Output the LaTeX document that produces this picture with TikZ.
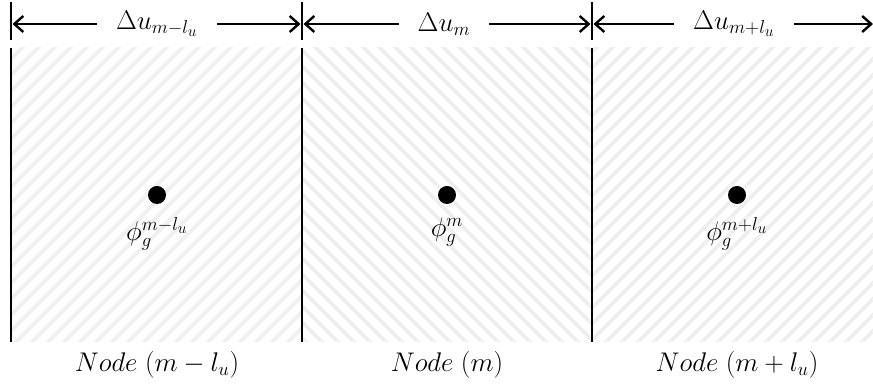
\documentclass[tikz,border=0pt]{standalone}
\usetikzlibrary{arrows.meta}
\DeclareMathSizes{20}{20}{14.4}{12}
\newcommand{\bigtxt}[1]{\scalebox{1.3}{\fontsize{20}{24}\selectfont #1}}
\begin{document}
\begin{tikzpicture}[x=1pt,y=1pt,
  bar/.style={line width=2.6pt},
  dimarrow/.style={line width=2.4pt,-{Straight Barb[length=9pt,width=16pt,line width=2.4pt]}},
  hatchline/.style={line width=4pt,black!6},
  lbl/.style={inner sep=0pt},
  dimlbl/.style={inner xsep=19pt,inner ysep=0pt},
  dot/.style={circle,fill=black,inner sep=0pt,minimum size=18pt}]
\useasboundingbox (0,0) rectangle (873,390);
% hatching
\begin{scope}
  \clip (11,48) rectangle (302,342);
  \foreach \i in {-400,-384,...,320} \draw[hatchline] (\i,0) -- ++(400,400);
\end{scope}
\begin{scope}
  \clip (302,48) rectangle (592,342);
  \foreach \i in {290,306,...,1000} \draw[hatchline] (\i,0) -- ++(-400,400);
\end{scope}
\begin{scope}
  \clip (592,48) rectangle (873,342);
  \foreach \i in {190,206,...,900} \draw[hatchline] (\i,0) -- ++(400,400);
\end{scope}
% vertical bars
\coordinate (b1t) at (11,342); \coordinate (b1b) at (11,48);
\coordinate (b2t) at (302,342); \coordinate (b2b) at (302,48);
\coordinate (b3t) at (592,342); \coordinate (b3b) at (592,48);
\draw[bar] (b1t) -- (b1b);
\draw[bar] (b2t) -- (b2b);
\draw[bar] (b3t) -- (b3b);
% ticks
\coordinate (k1t) at (11,388); \coordinate (k1b) at (11,350); \coordinate (k1) at (11,366);
\coordinate (k2t) at (302,388); \coordinate (k2b) at (302,350); \coordinate (k2) at (302,366);
\coordinate (k3t) at (592,388); \coordinate (k3b) at (592,350); \coordinate (k3) at (592,366);
\coordinate (k4) at (873,366);
\draw[bar] (k1t) -- (k1b);
\draw[bar] (k2t) -- (k2b);
\draw[bar] (k3t) -- (k3b);
% dimension labels
\node[dimlbl] (d1) at (157,366) {\bigtxt{$\Delta u_{m-l_u}$}};
\node[dimlbl] (d2) at (444,366) {\bigtxt{$\Delta u_{m}$}};
\node[dimlbl] (d3) at (734,366) {\bigtxt{$\Delta u_{m+l_u}$}};
\draw[dimarrow] (d1.west) -- ([xshift=1.5pt]k1);
\draw[dimarrow] (d1.east) -- ([xshift=-1.5pt]k2);
\draw[dimarrow] (d2.west) -- ([xshift=1.5pt]k2);
\draw[dimarrow] (d2.east) -- ([xshift=-1.5pt]k3);
\draw[dimarrow] (d3.west) -- ([xshift=1.5pt]k3);
\draw[dimarrow] (d3.east) -- (k4);
% dots
\node[dot] (p1) at (157,195) {};
\node[dot] (p2) at (447,195) {};
\node[dot] (p3) at (737,195) {};
\node[lbl,anchor=north] (f1) at ([yshift=-13pt]p1.south) {\bigtxt{$\phi_g^{m-l_u}$}};
\node[lbl,anchor=north] (f2) at ([yshift=-13pt]p2.south) {\bigtxt{$\phi_g^{m}$}};
\node[lbl,anchor=north] (f3) at ([yshift=-13pt]p3.south) {\bigtxt{$\phi_g^{m+l_u}$}};
% node labels
\node[lbl] (n1) at (157,25) {\bigtxt{$Node\;(m-l_u)$}};
\node[lbl] (n2) at (447,25) {\bigtxt{$Node\;(m)$}};
\node[lbl] (n3) at (737,25) {\bigtxt{$Node\;(m+l_u)$}};
\end{tikzpicture}
\end{document}
